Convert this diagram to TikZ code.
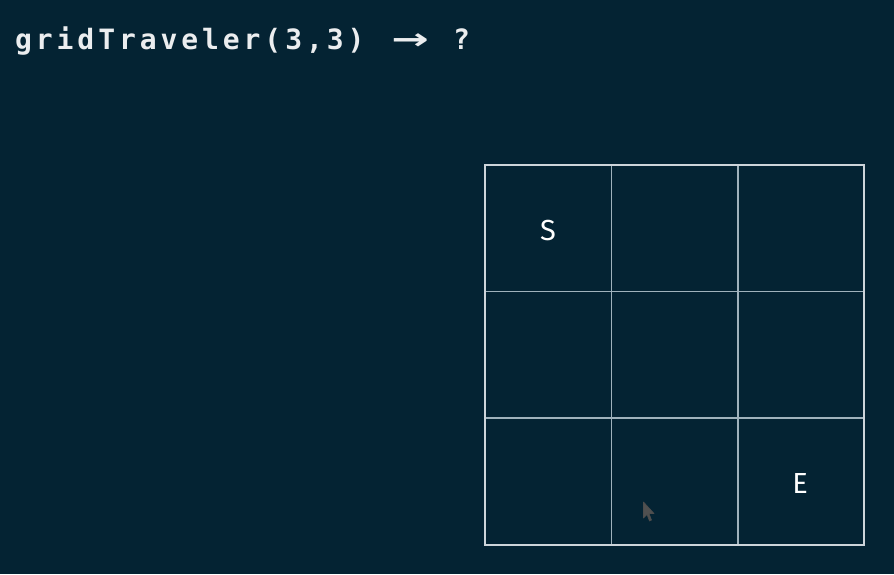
\documentclass[tikz,border=0pt]{standalone}
\usepackage{fontspec}
\setmainfont{Fira Sans}
\newfontfamily\codefont[LetterSpace=14]{DejaVu Sans Mono Bold}
\newfontfamily\arrowfont{DejaVu Sans Bold}
\definecolor{bgc}{RGB}{4,35,51}
\definecolor{outerc}{RGB}{205,212,218}
\definecolor{innerc}{RGB}{160,178,188}
\definecolor{cursorc}{RGB}{80,80,80}
\tikzset{
  celllabel/.style={text=white, font=\fontsize{29}{32}\selectfont, inner sep=0pt},
  titletext/.style={text=white!92!bgc, font=\codefont\fontsize{28}{30}\selectfont, inner sep=0pt, anchor=base west},
  innerline/.style={draw=innerc, line width=1.3pt},
  outerline/.style={draw=outerc, line width=2.6pt},
}
\begin{document}
\begin{tikzpicture}[x=1pt,y=-1pt]
\fill[bgc] (0,0) rectangle (894,574);
\useasboundingbox (0,0) rectangle (894,574);
\node[titletext] (title) at (15,49) {gridTraveler(3,3)\hspace{27pt}{\arrowfont\scalebox{1.6}[1.05]{→}}\hspace{24pt}?};
% grid
\coordinate (tl) at (485,165);
\coordinate (br) at (864,545);
\draw[innerline] (611.5,165) -- (611.5,545);
\draw[innerline] (738,165) -- (738,545);
\draw[innerline] (485,291.5) -- (864,291.5);
\draw[innerline] (485,418) -- (864,418);
\draw[outerline] (tl) rectangle (br);
\node[celllabel] (S) at (548,231) {S};
\node[celllabel] (E) at (800,483) {E};
% mouse cursor
\filldraw[fill=cursorc, draw=black!70, line width=0.6pt, line join=round]
  (643.5,502) -- (643.5,518) -- (647,514.5) -- (649.5,521) -- (651.5,520) -- (649,513.5) -- (654,513.5) -- cycle;
\end{tikzpicture}
\end{document}
